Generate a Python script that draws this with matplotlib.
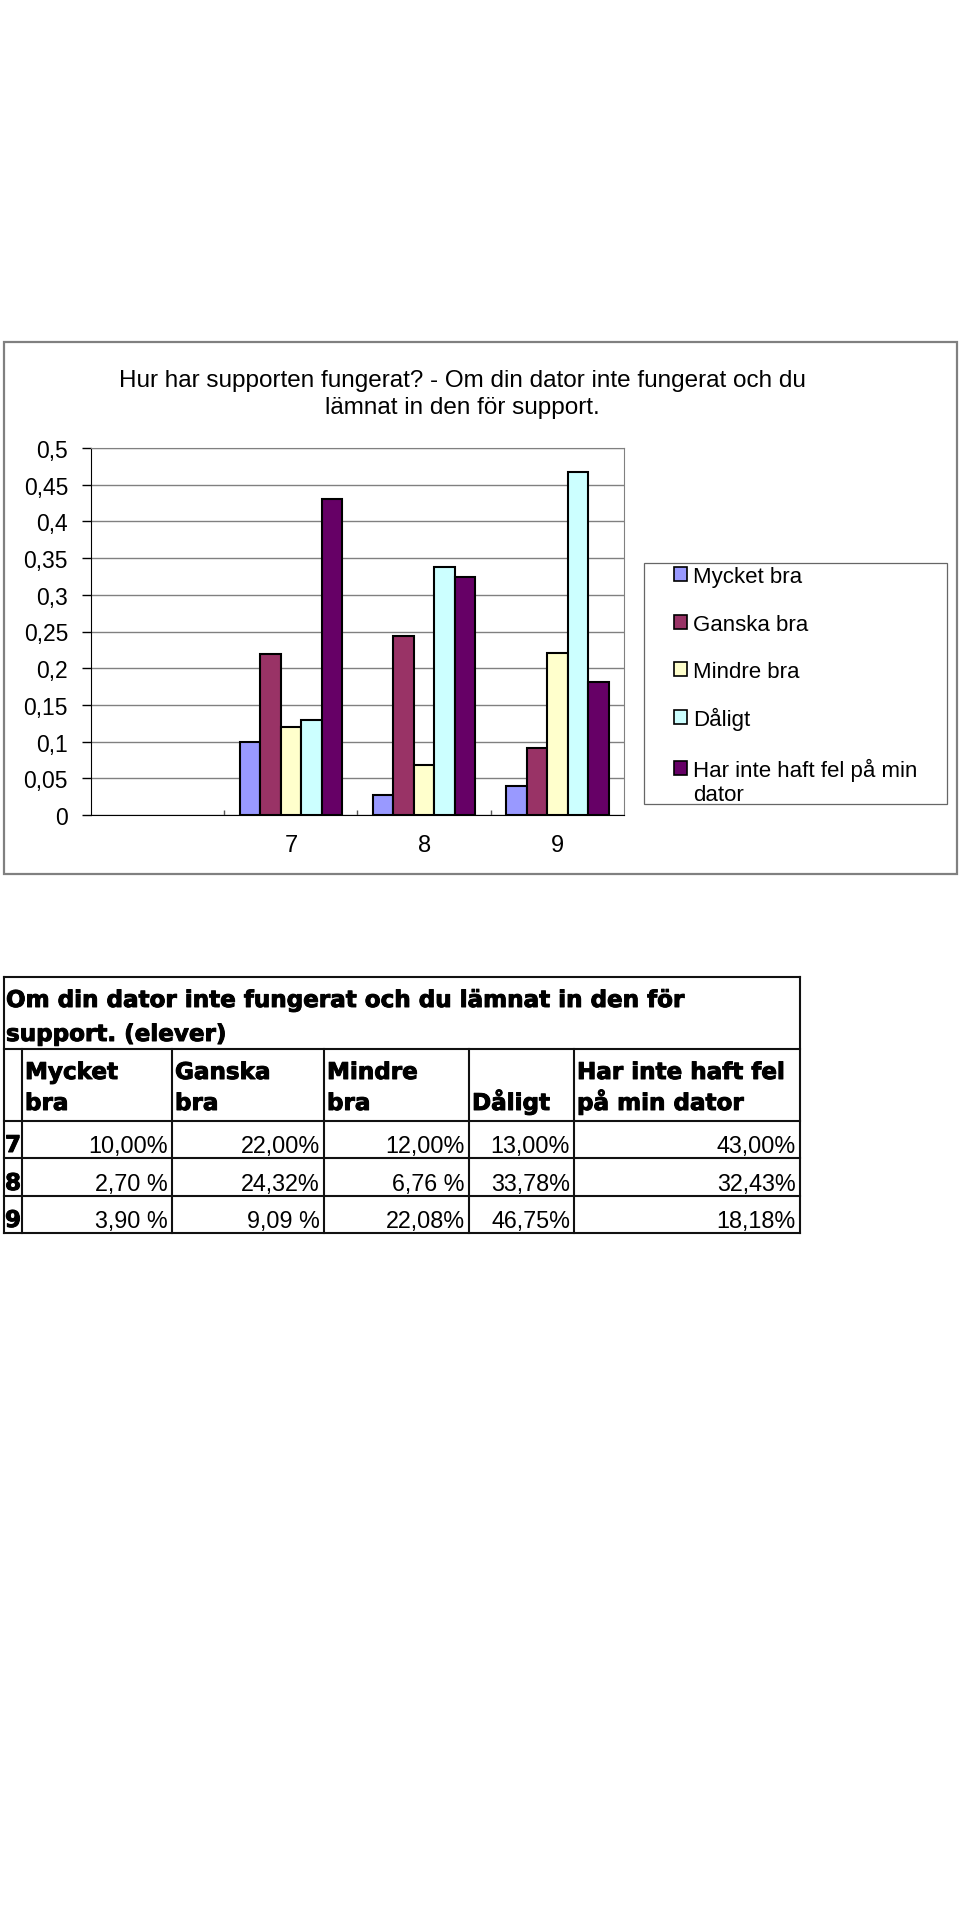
import numpy as np
import matplotlib
matplotlib.use("Agg")
import matplotlib.pyplot as plt
import matplotlib.patheffects as pe
from matplotlib.patches import Rectangle
from matplotlib.ticker import MultipleLocator, FuncFormatter, FixedLocator

plt.rcParams['font.family'] = ['Liberation Sans', 'DejaVu Sans']

W, H = 960, 1915

# data
categories = ["", "7", "8", "9"]
series = ["Mycket bra", "Ganska bra", "Mindre bra", "Dåligt",
          "Har inte haft fel på min dator"]
legend_lines = [["Mycket bra"], ["Ganska bra"], ["Mindre bra"], ["Dåligt"],
                ["Har inte haft fel på min", "dator"]]
colors = ["#9999FF", "#993366", "#FFFFCC", "#CCFFFF", "#660066"]
grade7 = [0.10, 0.22, 0.12, 0.13, 0.43]
grade8 = [0.027, 0.2432, 0.0676, 0.3378, 0.3243]
grade9 = [0.039, 0.0909, 0.2208, 0.4675, 0.1818]
grades = {"7": grade7, "8": grade8, "9": grade9}

chart_title = ["Hur har supporten fungerat? - Om din dator inte fungerat och du",
               "lämnat in den för support."]
table_title = ["Om din dator inte fungerat och du lämnat in den för",
               "support. (elever)"]
header_top = ["Mycket", "Ganska", "Mindre", "", "Har inte haft fel"]
header_bottom = ["bra", "bra", "bra", "Dåligt", "på min dator"]


def fx(x):
    return x / W


def fy(y):
    return 1 - y / H


def pct(v):
    s = f"{v * 100:.2f}".replace(".", ",")
    return s + ("%" if v >= 0.1 else " %")


fig = plt.figure(figsize=(9.6, 19.15), dpi=100)
fig.patch.set_facecolor("white")

# overlay in pixel coordinates for frames, legend and table
ov = fig.add_axes([0, 0, 1, 1], zorder=0)
ov.set_xlim(0, W)
ov.set_ylim(H, 0)
ov.axis("off")
ov.patch.set_alpha(0)

# chart axes
ax = fig.add_axes([fx(91), fy(816), (624 - 91) / W, (816 - 449) / H], zorder=1)
x = np.arange(len(categories))
w = 1 / 6.5
plot_cats = categories[1:]
for j, (name, col) in enumerate(zip(series, colors)):
    vals = [grades[c][j] for c in plot_cats]
    ax.bar(x[1:] + (j - 2) * w, vals, width=w, color=col,
           edgecolor="black", linewidth=1.5, zorder=3, label=name)

ax.set_xlim(-0.5, len(categories) - 0.5)
ax.set_ylim(0, 0.5)
ax.yaxis.set_major_locator(MultipleLocator(0.05))
ax.yaxis.set_major_formatter(FuncFormatter(
    lambda v, p: f"{round(v, 2):g}".replace(".", ",")))
ax.set_axisbelow(True)
ax.yaxis.grid(True, color="#808080", linewidth=1)
ax.tick_params(axis="y", direction="out", length=6.5, width=1, pad=10,
               labelsize=16.5, color="black")
ax.set_xticks(x[1:])
ax.set_xticklabels(plot_cats)
ax.xaxis.set_minor_locator(FixedLocator(x[:-1] + 0.5))
ax.tick_params(axis="x", which="major", length=0, pad=13.5, labelsize=17)
ax.tick_params(axis="x", which="minor", direction="in", length=3.6,
               width=1, color="#555555")
for s in ("top", "right"):
    ax.spines[s].set_color("#808080")
for s in ("left", "bottom"):
    ax.spines[s].set_color("black")

# chart frame and title
ov.add_patch(Rectangle((4, 343), 953, 532, fill=False,
                       edgecolor="#808080", linewidth=1.6))
for line, yb in zip(chart_title, [387, 414]):
    ov.text(462, yb, line, ha="center", va="baseline", fontsize=17.5)

# legend
ov.add_patch(Rectangle((644, 564), 303, 241, fill=False,
                       edgecolor="#666666", linewidth=0.9))
leg_base = [583, 631, 678, 726, 777]
for lines, col, yb in zip(legend_lines, colors, leg_base):
    ov.add_patch(Rectangle((674, yb - 15), 13, 14, facecolor=col,
                           edgecolor="black", linewidth=1.2))
    for k, line in enumerate(lines):
        ov.text(693, yb + k * 24, line, ha="left", va="baseline", fontsize=16)

# table
lw = 1.5
tx0, tx1 = 4, 800
rows_y = [978, 1050, 1122, 1159, 1197, 1234]
col_x = [22, 172, 324, 469, 574]
for yy in rows_y:
    ov.plot([tx0, tx1], [yy, yy], color="#111111", lw=lw,
            solid_capstyle="projecting")
for xx in (tx0, tx1):
    ov.plot([xx, xx], [rows_y[0], rows_y[-1]], color="#111111", lw=lw)
for xx in col_x:
    ov.plot([xx, xx], [rows_y[1], rows_y[-1]], color="#111111", lw=lw)

heavy = [pe.withStroke(linewidth=0.7, foreground="black")]
bold = dict(family="DejaVu Sans", fontweight="bold", fontsize=16.6,
            path_effects=heavy)
for line, yb in zip(table_title, [1008, 1042]):
    ov.text(6, yb, line, ha="left", va="baseline", **bold)

for left, top, bot in zip(col_x, header_top, header_bottom):
    ov.text(left + 3, 1080, top, ha="left", va="baseline", **bold)
    ov.text(left + 3, 1111, bot, ha="left", va="baseline", **bold)

col_right = col_x[1:] + [tx1]
for cat, yb in zip(plot_cats, [1153, 1191, 1228]):
    ov.text(5, yb, cat, ha="left", va="baseline", **bold)
    for v, r in zip(grades[cat], col_right):
        ov.text(r - 4, yb, pct(v), ha="right", va="baseline", fontsize=16.8)

fig.savefig("out.png", dpi=100, facecolor="white")
